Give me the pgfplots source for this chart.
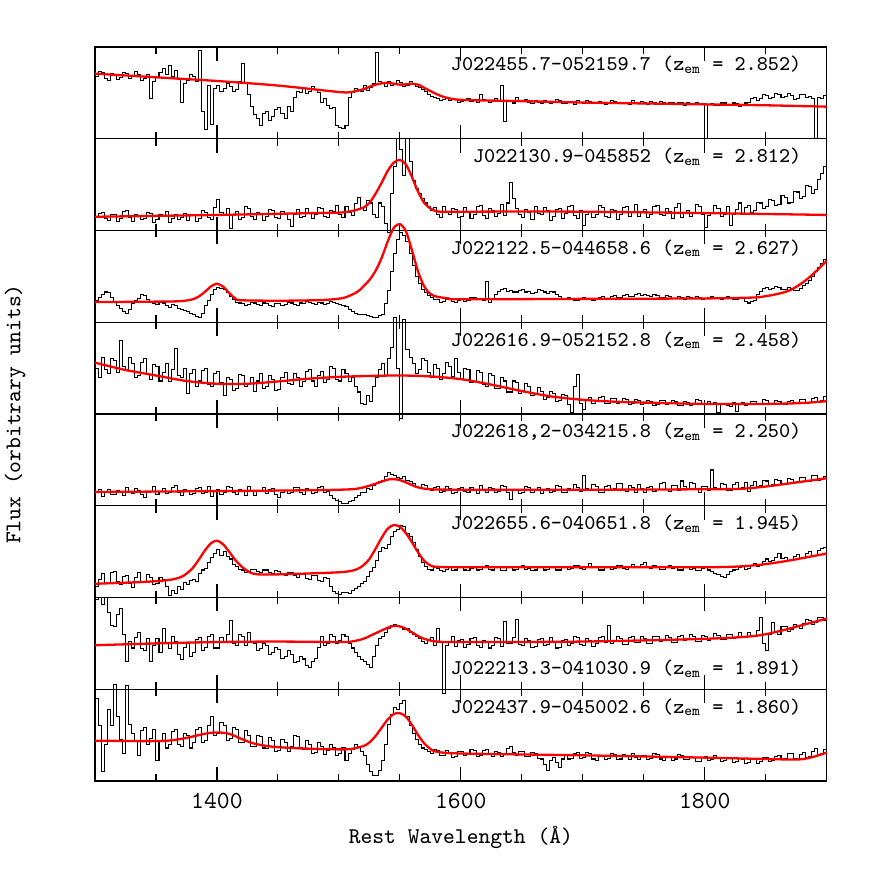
\documentclass[border=0pt]{standalone}
\usepackage{fontspec}
\usepackage{pgfplots}
\pgfplotsset{compat=1.18}
\usepgfplotslibrary{groupplots}
\tikzset{
  spec/.style={black, line width=0.4pt, const plot, no marks},
  model/.style={red, line width=0.9pt, smooth, no marks},
  lab/.style={anchor=base east, font=\fontsize{8.2}{10}\selectfont\ttfamily, inner sep=0pt},
}
\begin{document}
\begin{tikzpicture}
\begin{groupplot}[
  group style={group size=1 by 8, vertical sep=0pt, xticklabels at=edge bottom},
  scale only axis, width=10.07cm, height=1.2626cm,
  xmin=1300, xmax=1900, ymin=0, ymax=100,
  xtick={1400,1600,1800}, xticklabels={1400,1600,1800},
  minor xtick={1350,1450,1500,1550,1650,1700,1750,1850},
  ytick=\empty,
  major tick length=0.19cm, minor tick length=0.095cm,
  tick style={black, line width=0.45pt},
  axis line style={line width=0.5pt},
  clip=false,
  xticklabel style={font=\fontsize{9.6}{11}\selectfont\ttfamily, yshift=-0.05cm},
]
% panel 1
\nextgroupplot[minor ytick={13,27,40,53,67,80,93}]
\addplot[spec] coordinates {
(1300,68)(1302.5,73)(1305,72)(1307.5,66)(1310,64)(1312.5,71)(1315,70)(1317.5,65)(1320,67)(1322.5,72)
(1325,71)(1327.5,66)(1330,69)(1332.5,73)(1335,70)(1337.5,63)(1340,66)(1342.5,70)(1345,44)(1347.5,62)
(1350,68)(1352.5,72)(1355,77)(1357.5,70)(1360,80)(1362.5,68)(1365,74)(1367.5,65)(1370,40)(1372.5,60)
(1375,64)(1377.5,70)(1380,68)(1382.5,62)(1385,96)(1387.5,30)(1390,10)(1392.5,58)(1395,16)(1397.5,55)
(1400,58)(1402.5,52)(1405,55)(1407.5,60)(1410,57)(1412.5,52)(1415,54)(1417.5,62)(1420,82)(1422.5,60)
(1425,48)(1427.5,35)(1430,26)(1432.5,22)(1435,15)(1437.5,28)(1440,30)(1442.5,20)(1445,24)(1447.5,32)
(1450,34)(1452.5,28)(1455,22)(1457.5,35)(1460,30)(1462.5,45)(1465,52)(1467.5,50)(1470,55)(1472.5,49)
(1475,52)(1477.5,57)(1480,54)(1482.5,50)(1485,40)(1487.5,44)(1490,36)(1492.5,33)(1495,34)(1497.5,15)
(1500,12)(1502.5,11)(1505,14)(1507.5,45)(1510,50)(1512.5,55)(1515,54)(1517.5,51)(1520,58)(1522.5,53)
(1525,56)(1527.5,60)(1530,94)(1532.5,62)(1535,60)(1537.5,57)(1540,62)(1542.5,58)(1545,59)(1547.5,63)
(1550,61)(1552.5,57)(1555,58)(1557.5,62)(1560,60)(1562.5,57)(1565,56)(1567.5,54)(1570,52)(1572.5,48)
(1575,46)(1577.5,45)(1580,44)(1582.5,42)(1585,43)(1587.5,45)(1590,42)(1592.5,44)(1595,43)(1597.5,40)
(1600,41)(1602.5,43)(1605,44)(1607.5,41)(1610,42)(1612.5,40)(1615,48)(1617.5,43)(1620,42)(1622.5,40)
(1625,41)(1627.5,44)(1630,41)(1632.5,58)(1635,19)(1637.5,42)(1640,42)(1642.5,39)(1645,45)(1647.5,41)
(1650,41)(1652.5,43)(1655,40)(1657.5,38)(1660,42)(1662.5,40)(1665,39)(1667.5,42)(1670,41)(1672.5,38)
(1675,40)(1677.5,43)(1680,42)(1682.5,39)(1685,39)(1687.5,41)(1690,40)(1692.5,37)(1695,42)(1697.5,40)
(1700,39)(1702.5,42)(1705,41)(1707.5,38)(1710,38)(1712.5,41)(1715,40)(1717.5,37)(1720,39)(1722.5,42)
(1725,41)(1727.5,38)(1730,38)(1732.5,40)(1735,40)(1737.5,37)(1740,42)(1742.5,39)(1745,38)(1747.5,41)
(1750,39)(1752.5,37)(1755,41)(1757.5,39)(1760,38)(1762.5,41)(1765,40)(1767.5,37)(1770,39)(1772.5,40)
(1775,37)(1777.5,40)(1780,39)(1782.5,36)(1785,40)(1787.5,38)(1790,38)(1792.5,40)(1795,37)(1797.5,38)
(1800,0)(1802.5,37)(1805,38)(1807.5,36)(1810,36)(1812.5,39)(1815,39)(1817.5,36)(1820,37)(1822.5,39)
(1825,38)(1827.5,35)(1830,36)(1832.5,39)(1835,40)(1837.5,44)(1840,45)(1842.5,42)(1845,44)(1847.5,48)
(1850,47)(1852.5,44)(1855,45)(1857.5,49)(1860,48)(1862.5,45)(1865,46)(1867.5,49)(1870,47)(1872.5,43)
(1875,44)(1877.5,48)(1880,48)(1882.5,45)(1885,46)(1887.5,44)(1890,0)(1892.5,45)(1895,44)(1897.5,47)(1900,47)
};
\addplot[model] coordinates {
(1300,71) (1350,67) (1400,63) (1450,58) (1500,51) (1510,51) (1520,54) (1530,59) (1540,61) (1550,59)
(1560,60) (1565,59) (1575,52) (1585,46) (1595,43) (1610,42) (1650,41) (1700,39.5) (1750,38.5) (1800,37.5)
(1850,36.5) (1900,35)
};
\node[lab] at (axis description cs:0.966,0.74) {J022455.7-052159.7 (z\textsubscript{em} = 2.852)};
% panel 2
\nextgroupplot[minor ytick={13,27,40,53,67,80,93}]
\addplot[spec] coordinates {
(1300,14)(1302.5,19)(1305,20)(1307.5,13)(1310,11)(1312.5,18)(1315,17)(1317.5,10)(1320,13)(1322.5,21)
(1325,22)(1327.5,14)(1330,10)(1332.5,17)(1335,16)(1337.5,12)(1340,13)(1342.5,20)(1345,19)(1347.5,9)
(1350,12)(1352.5,18)(1355,15)(1357.5,21)(1360,9)(1362.5,13)(1365,18)(1367.5,12)(1370,14)(1372.5,19)
(1375,11)(1377.5,17)(1380,16)(1382.5,10)(1385,13)(1387.5,22)(1390,20)(1392.5,14)(1395,12)(1397.5,25)
(1400,34)(1402.5,20)(1405,17)(1407.5,24)(1410,2)(1412.5,16)(1415,21)(1417.5,12)(1420,14)(1422.5,26)
(1425,24)(1427.5,15)(1430,12)(1432.5,20)(1435,18)(1437.5,11)(1440,15)(1442.5,23)(1445,22)(1447.5,14)
(1450,13)(1452.5,21)(1455,19)(1457.5,12)(1460,4)(1462.5,18)(1465,23)(1467.5,14)(1470,15)(1472.5,24)
(1475,20)(1477.5,13)(1480,17)(1482.5,25)(1485,24)(1487.5,15)(1490,14)(1492.5,22)(1495,21)(1497.5,27)
(1500,18)(1502.5,14)(1505,26)(1507.5,20)(1510,16)(1512.5,29)(1515,36)(1517.5,24)(1520,22)(1522.5,33)
(1525,30)(1527.5,18)(1530,14)(1532.5,30)(1535,26)(1537.5,8)(1540,-2)(1542.5,40)(1545,70)(1547.5,100)
(1550,88)(1552.5,60)(1555,100)(1557.5,75)(1560,55)(1562.5,46)(1565,40)(1567.5,35)(1570,30)(1572.5,26)
(1575,22)(1577.5,25)(1580,18)(1582.5,14)(1585,26)(1587.5,21)(1590,17)(1592.5,24)(1595,23)(1597.5,14)
(1600,15)(1602.5,25)(1605,21)(1607.5,13)(1610,18)(1612.5,26)(1615,27)(1617.5,16)(1620,13)(1622.5,24)
(1625,22)(1627.5,15)(1630,19)(1632.5,28)(1635,16)(1637.5,30)(1640,52)(1642.5,35)(1645,24)(1647.5,17)
(1650,14)(1652.5,23)(1655,20)(1657.5,12)(1660,26)(1662.5,19)(1665,17)(1667.5,25)(1670,22)(1672.5,11)
(1675,15)(1677.5,23)(1680,24)(1682.5,13)(1685,19)(1687.5,26)(1690,27)(1692.5,16)(1695,13)(1697.5,22)
(1700,5)(1702.5,18)(1705,21)(1707.5,14)(1710,18)(1712.5,27)(1715,25)(1717.5,15)(1720,14)(1722.5,23)
(1725,22)(1727.5,12)(1730,17)(1732.5,25)(1735,26)(1737.5,15)(1740,20)(1742.5,28)(1745,15)(1747.5,21)
(1750,23)(1752.5,14)(1755,18)(1757.5,26)(1760,27)(1762.5,17)(1765,16)(1767.5,24)(1770,21)(1772.5,13)
(1775,25)(1777.5,29)(1780,14)(1782.5,20)(1785,22)(1787.5,15)(1790,19)(1792.5,28)(1795,26)(1797.5,18)
(1800,3)(1802.5,16)(1805,20)(1807.5,27)(1810,24)(1812.5,15)(1815,18)(1817.5,26)(1820,6)(1822.5,17)
(1825,23)(1827.5,30)(1830,19)(1832.5,25)(1835,27)(1837.5,20)(1840,22)(1842.5,31)(1845,30)(1847.5,24)
(1850,26)(1852.5,34)(1855,33)(1857.5,27)(1860,28)(1862.5,38)(1865,36)(1867.5,30)(1870,31)(1872.5,43)
(1875,42)(1877.5,35)(1880,37)(1882.5,49)(1885,48)(1887.5,40)(1890,45)(1892.5,56)(1895,62)(1897.5,70)(1900,70)
};
\addplot[model] coordinates {
(1300,15) (1400,17) (1480,19) (1500,19.5) (1510,21) (1520,25) (1525,30) (1530,40) (1535,52) (1540,65)
(1545,74) (1550,77) (1555,72) (1560,58) (1565,42) (1570,30) (1575,24) (1580,21) (1590,20.5) (1650,20.7)
(1700,20.5) (1800,19) (1900,17)
};
\node[lab] at (axis description cs:0.966,0.74) {J022130.9-045852 (z\textsubscript{em} = 2.812)};
% panel 3
\nextgroupplot[minor ytick={5,28,51,74,97}]
\addplot[spec] coordinates {
(1300,24)(1302.5,27)(1305,30)(1307.5,33)(1310,32)(1312.5,27)(1315,22)(1317.5,18)(1320,15)(1322.5,12)
(1325,10)(1327.5,14)(1330,20)(1332.5,24)(1335,26)(1337.5,30)(1340,29)(1342.5,25)(1345,22)(1347.5,20)
(1350,19)(1352.5,22)(1355,21)(1357.5,18)(1360,16)(1362.5,19)(1365,18)(1367.5,15)(1370,14)(1372.5,13)
(1375,12)(1377.5,10)(1380,8)(1382.5,6)(1385,5)(1387.5,10)(1390,18)(1392.5,24)(1395,30)(1397.5,36)
(1400,38)(1402.5,37)(1405,36)(1407.5,32)(1410,28)(1412.5,25)(1415,22)(1417.5,21)(1420,20)(1422.5,18)
(1425,19)(1427.5,22)(1430,21)(1432.5,19)(1435,18)(1437.5,21)(1440,20)(1442.5,18)(1445,17)(1447.5,20)
(1450,20)(1452.5,18)(1455,19)(1457.5,22)(1460,21)(1462.5,19)(1465,18)(1467.5,21)(1470,20)(1472.5,23)
(1475,22)(1477.5,20)(1480,19)(1482.5,22)(1485,21)(1487.5,19)(1490,20)(1492.5,23)(1495,22)(1497.5,20)
(1500,19)(1502.5,18)(1505,17)(1507.5,14)(1510,12)(1512.5,10)(1515,9)(1517.5,8)(1520,8)(1522.5,7)
(1525,6)(1527.5,5)(1530,5)(1532.5,7)(1535,9)(1537.5,20)(1540,35)(1542.5,55)(1545,75)(1547.5,90)
(1550,98)(1552.5,95)(1555,88)(1557.5,75)(1560,62)(1562.5,50)(1565,42)(1567.5,36)(1570,32)(1572.5,29)
(1575,27)(1577.5,25)(1580,25)(1582.5,22)(1585,23)(1587.5,25)(1590,26)(1592.5,23)(1595,22)(1597.5,24)
(1600,25)(1602.5,23)(1605,24)(1607.5,27)(1610,27)(1612.5,25)(1615,26)(1617.5,24)(1620,44)(1622.5,22)
(1625,26)(1627.5,30)(1630,34)(1632.5,36)(1635,37)(1637.5,34)(1640,35)(1642.5,33)(1645,33)(1647.5,35)
(1650,36)(1652.5,33)(1655,34)(1657.5,31)(1660,32)(1662.5,36)(1665,35)(1667.5,33)(1670,31)(1672.5,34)
(1675,33)(1677.5,30)(1680,28)(1682.5,26)(1685,25)(1687.5,27)(1690,26)(1692.5,24)(1695,24)(1697.5,26)
(1700,27)(1702.5,25)(1705,26)(1707.5,24)(1710,25)(1712.5,27)(1715,28)(1717.5,26)(1720,26)(1722.5,28)
(1725,29)(1727.5,27)(1730,27)(1732.5,29)(1735,30)(1737.5,28)(1740,28)(1742.5,30)(1745,31)(1747.5,29)
(1750,30)(1752.5,29)(1755,28)(1757.5,30)(1760,29)(1762.5,27)(1765,27)(1767.5,29)(1770,28)(1772.5,26)
(1775,26)(1777.5,28)(1780,27)(1782.5,25)(1785,28)(1787.5,27)(1790,26)(1792.5,28)(1795,27)(1797.5,25)
(1800,26)(1802.5,27)(1805,28)(1807.5,26)(1810,27)(1812.5,25)(1815,26)(1817.5,28)(1820,27)(1822.5,25)
(1825,25)(1827.5,27)(1830,26)(1832.5,23)(1835,21)(1837.5,23)(1840,24)(1842.5,30)(1845,34)(1847.5,37)
(1850,38)(1852.5,36)(1855,37)(1857.5,39)(1860,38)(1862.5,36)(1865,36)(1867.5,38)(1870,37)(1872.5,35)
(1875,35)(1877.5,37)(1880,40)(1882.5,42)(1885,46)(1887.5,50)(1890,55)(1892.5,60)(1895,64)(1897.5,68)(1900,68)
};
\addplot[model] coordinates {
(1300,22) (1350,22.5) (1370,23) (1380,25) (1385,28) (1390,33) (1395,39) (1400,42) (1405,39) (1410,32)
(1415,26) (1420,24) (1450,23.5) (1480,24) (1495,25) (1505,27) (1515,33) (1520,39) (1525,46) (1530,56)
(1535,70) (1540,88) (1545,103) (1550,107) (1555,99) (1560,78) (1565,55) (1570,39) (1575,31) (1580,28)
(1590,26) (1600,25) (1700,25.5) (1800,26) (1840,27) (1850,28.5) (1860,31) (1870,35) (1880,43) (1890,54)
(1900,67)
};
\node[lab] at (axis description cs:0.966,0.74) {J022122.5-044658.6 (z\textsubscript{em} = 2.627)};
% panel 4
\nextgroupplot[minor ytick={19,39,58,78,97}]
\addplot[spec] coordinates {
(1300,50)(1302.5,40)(1305,62)(1307.5,48)(1310,44)(1312.5,60)(1315,58)(1317.5,45)(1320,80)(1322.5,52)
(1325,48)(1327.5,62)(1330,55)(1332.5,40)(1335,42)(1337.5,56)(1340,60)(1342.5,44)(1345,38)(1347.5,54)
(1350,52)(1352.5,36)(1355,45)(1357.5,55)(1360,35)(1362.5,48)(1365,71)(1367.5,42)(1370,40)(1372.5,50)
(1375,22)(1377.5,44)(1380,48)(1382.5,30)(1385,36)(1387.5,47)(1390,50)(1392.5,32)(1395,30)(1397.5,44)
(1400,46)(1402.5,34)(1405,20)(1407.5,40)(1410,38)(1412.5,26)(1415,28)(1417.5,43)(1420,42)(1422.5,30)
(1425,33)(1427.5,40)(1430,25)(1432.5,36)(1435,44)(1437.5,28)(1440,30)(1442.5,42)(1445,38)(1447.5,26)
(1450,27)(1452.5,40)(1455,45)(1457.5,33)(1460,32)(1462.5,44)(1465,40)(1467.5,30)(1470,35)(1472.5,46)
(1475,48)(1477.5,36)(1480,30)(1482.5,42)(1485,46)(1487.5,34)(1490,38)(1492.5,52)(1495,50)(1497.5,38)
(1500,36)(1502.5,48)(1505,44)(1507.5,35)(1510,40)(1512.5,30)(1515,24)(1517.5,12)(1520,10)(1522.5,20)
(1525,14)(1527.5,30)(1530,40)(1532.5,48)(1535,55)(1537.5,42)(1540,60)(1542.5,72)(1545,105)(1547.5,50)
(1550,-5)(1552.5,103)(1555,70)(1557.5,62)(1560,55)(1562.5,44)(1565,48)(1567.5,60)(1570,58)(1572.5,45)
(1575,40)(1577.5,54)(1580,50)(1582.5,38)(1585,44)(1587.5,56)(1590,52)(1592.5,41)(1595,60)(1597.5,45)
(1600,38)(1602.5,50)(1605,48)(1607.5,34)(1610,35)(1612.5,47)(1615,45)(1617.5,32)(1620,30)(1622.5,44)
(1625,42)(1627.5,28)(1630,28)(1632.5,40)(1635,36)(1637.5,24)(1640,24)(1642.5,36)(1645,34)(1647.5,22)
(1650,26)(1652.5,33)(1655,30)(1657.5,20)(1660,22)(1662.5,29)(1665,25)(1667.5,16)(1670,18)(1672.5,25)
(1675,22)(1677.5,14)(1680,15)(1682.5,21)(1685,20)(1687.5,10)(1690,2)(1692.5,30)(1695,43)(1697.5,12)
(1700,5)(1702.5,16)(1705,18)(1707.5,12)(1710,14)(1712.5,18)(1715,19)(1717.5,11)(1720,12)(1722.5,17)
(1725,17)(1727.5,11)(1730,13)(1732.5,17)(1735,16)(1737.5,10)(1740,11)(1742.5,16)(1745,15)(1747.5,10)
(1750,12)(1752.5,15)(1755,14)(1757.5,9)(1760,10)(1762.5,15)(1765,15)(1767.5,10)(1770,11)(1772.5,15)
(1775,14)(1777.5,9)(1780,9)(1782.5,14)(1785,13)(1787.5,9)(1790,11)(1792.5,16)(1795,15)(1797.5,10)
(1800,12)(1802.5,14)(1805,10)(1807.5,13)(1810,2)(1812.5,11)(1815,12)(1817.5,9)(1820,8)(1822.5,13)
(1825,3)(1827.5,10)(1830,13)(1832.5,9)(1835,10)(1837.5,14)(1840,14)(1842.5,10)(1845,12)(1847.5,16)
(1850,15)(1852.5,11)(1855,11)(1857.5,15)(1860,14)(1862.5,10)(1865,10)(1867.5,14)(1870,15)(1872.5,11)
(1875,12)(1877.5,16)(1880,16)(1882.5,12)(1885,13)(1887.5,17)(1890,18)(1892.5,13)(1895,15)(1897.5,19)(1900,19)
};
\addplot[model] coordinates {
(1300,56) (1325,48) (1350,42) (1375,36) (1400,33) (1425,33) (1450,35.5) (1475,38.5) (1500,40.5) (1525,41.5)
(1550,42) (1575,41) (1600,38) (1625,32) (1650,25) (1675,19) (1700,15.5) (1725,13.5) (1750,12.5) (1800,11)
(1850,11) (1880,12) (1900,14)
};
\node[lab] at (axis description cs:0.966,0.74) {J022616.9-052152.8 (z\textsubscript{em} = 2.458)};
% panel 5
\nextgroupplot[minor ytick={8,17,26,35,44,53,62,71,80,89,98}]
\addplot[spec] coordinates {
(1300,14)(1302.5,18)(1305,10)(1307.5,15)(1310,18)(1312.5,12)(1315,12)(1317.5,17)(1320,16)(1322.5,11)
(1325,20)(1327.5,15)(1330,13)(1332.5,19)(1335,17)(1337.5,12)(1340,9)(1342.5,15)(1345,16)(1347.5,21)
(1350,12)(1352.5,16)(1355,19)(1357.5,13)(1360,14)(1362.5,20)(1365,22)(1367.5,14)(1370,11)(1372.5,18)
(1375,17)(1377.5,12)(1380,13)(1382.5,19)(1385,20)(1387.5,13)(1390,15)(1392.5,21)(1395,10)(1397.5,16)
(1400,18)(1402.5,12)(1405,14)(1407.5,21)(1410,20)(1412.5,14)(1415,12)(1417.5,18)(1420,17)(1422.5,11)
(1425,21)(1427.5,16)(1430,11)(1432.5,17)(1435,16)(1437.5,20)(1440,13)(1442.5,18)(1445,19)(1447.5,12)
(1450,9)(1452.5,15)(1455,17)(1457.5,13)(1460,14)(1462.5,20)(1465,20)(1467.5,14)(1470,12)(1472.5,19)
(1475,18)(1477.5,13)(1480,15)(1482.5,20)(1485,21)(1487.5,15)(1490,16)(1492.5,11)(1495,8)(1497.5,6)
(1500,5)(1502.5,3)(1505,3)(1507.5,5)(1510,6)(1512.5,9)(1515,11)(1517.5,14)(1520,15)(1522.5,19)
(1525,18)(1527.5,22)(1530,24)(1532.5,26)(1535,28)(1537.5,32)(1540,36)(1542.5,34)(1545,33)(1547.5,31)
(1550,30)(1552.5,32)(1555,28)(1557.5,26)(1560,24)(1562.5,21)(1565,20)(1567.5,23)(1570,22)(1572.5,18)
(1575,17)(1577.5,20)(1580,21)(1582.5,15)(1585,16)(1587.5,21)(1590,19)(1592.5,13)(1595,14)(1597.5,19)
(1600,20)(1602.5,16)(1605,15)(1607.5,20)(1610,18)(1612.5,13)(1615,22)(1617.5,17)(1620,14)(1622.5,20)
(1625,19)(1627.5,14)(1630,16)(1632.5,22)(1635,21)(1637.5,15)(1640,7)(1642.5,17)(1645,18)(1647.5,13)
(1650,15)(1652.5,21)(1655,20)(1657.5,14)(1660,17)(1662.5,20)(1665,13)(1667.5,18)(1670,19)(1672.5,14)
(1675,16)(1677.5,22)(1680,21)(1682.5,15)(1685,14)(1687.5,19)(1690,18)(1692.5,23)(1695,20)(1697.5,16)
(1700,33)(1702.5,19)(1705,17)(1707.5,23)(1710,21)(1712.5,15)(1715,15)(1717.5,21)(1720,22)(1722.5,17)
(1725,19)(1727.5,24)(1730,24)(1732.5,18)(1735,16)(1737.5,22)(1740,20)(1742.5,15)(1745,23)(1747.5,19)
(1750,14)(1752.5,20)(1755,21)(1757.5,16)(1760,18)(1762.5,24)(1765,25)(1767.5,18)(1770,16)(1772.5,22)
(1775,22)(1777.5,17)(1780,27)(1782.5,21)(1785,19)(1787.5,25)(1790,24)(1792.5,18)(1795,15)(1797.5,21)
(1800,21)(1802.5,17)(1805,39)(1807.5,20)(1810,18)(1812.5,24)(1815,23)(1817.5,17)(1820,17)(1822.5,23)
(1825,25)(1827.5,19)(1830,20)(1832.5,25)(1835,16)(1837.5,22)(1840,26)(1842.5,21)(1845,22)(1847.5,28)
(1850,27)(1852.5,22)(1855,23)(1857.5,29)(1860,28)(1862.5,23)(1865,24)(1867.5,30)(1870,29)(1872.5,25)
(1875,26)(1877.5,31)(1880,31)(1882.5,26)(1885,27)(1887.5,33)(1890,33)(1892.5,28)(1895,30)(1897.5,32)(1900,32)
};
\addplot[model] coordinates {
(1300,15) (1400,16) (1480,17) (1510,18) (1520,20) (1530,24) (1540,28.5) (1545,29) (1550,28) (1555,25.5)
(1560,22.5) (1565,20) (1575,18) (1600,17.5) (1700,17.5) (1800,18) (1830,18.5) (1850,21) (1870,24.5) (1900,30)
};
\node[lab] at (axis description cs:0.966,0.74) {J022618,2-034215.8 (z\textsubscript{em} = 2.250)};
% panel 6
\nextgroupplot[minor ytick={4,17,30,43,56,69,82,95}]
\addplot[spec] coordinates {
(1300,12)(1302.5,20)(1305,26)(1307.5,15)(1310,16)(1312.5,27)(1315,28)(1317.5,18)(1320,14)(1322.5,23)
(1325,24)(1327.5,15)(1330,11)(1332.5,22)(1335,27)(1337.5,17)(1340,18)(1342.5,25)(1345,22)(1347.5,14)
(1350,15)(1352.5,22)(1355,20)(1357.5,12)(1360,2)(1362.5,8)(1365,4)(1367.5,12)(1370,9)(1372.5,16)
(1375,14)(1377.5,19)(1380,20)(1382.5,17)(1385,26)(1387.5,30)(1390,32)(1392.5,38)(1395,44)(1397.5,48)
(1400,52)(1402.5,46)(1405,50)(1407.5,45)(1410,42)(1412.5,36)(1415,34)(1417.5,31)(1420,30)(1422.5,27)
(1425,28)(1427.5,31)(1430,31)(1432.5,28)(1435,27)(1437.5,30)(1440,30)(1442.5,27)(1445,26)(1447.5,29)
(1450,28)(1452.5,25)(1455,24)(1457.5,27)(1460,27)(1462.5,24)(1465,22)(1467.5,26)(1470,25)(1472.5,21)
(1475,20)(1477.5,24)(1480,24)(1482.5,19)(1485,17)(1487.5,22)(1490,21)(1492.5,12)(1495,7)(1497.5,4)
(1500,3)(1502.5,5)(1505,6)(1507.5,4)(1510,8)(1512.5,10)(1515,12)(1517.5,15)(1520,18)(1522.5,23)
(1525,28)(1527.5,33)(1530,40)(1532.5,50)(1535,55)(1537.5,53)(1540,58)(1542.5,66)(1545,72)(1547.5,74)
(1550,78)(1552.5,77)(1555,70)(1557.5,66)(1560,60)(1562.5,52)(1565,45)(1567.5,38)(1570,34)(1572.5,31)
(1575,30)(1577.5,33)(1580,32)(1582.5,29)(1585,28)(1587.5,31)(1590,33)(1592.5,29)(1595,30)(1597.5,33)
(1600,34)(1602.5,30)(1605,29)(1607.5,32)(1610,33)(1612.5,30)(1615,31)(1617.5,34)(1620,35)(1622.5,31)
(1625,30)(1627.5,33)(1630,33)(1632.5,29)(1635,29)(1637.5,33)(1640,34)(1642.5,30)(1645,31)(1647.5,34)
(1650,35)(1652.5,31)(1655,32)(1657.5,29)(1660,30)(1662.5,33)(1665,34)(1667.5,30)(1670,31)(1672.5,34)
(1675,33)(1677.5,30)(1680,30)(1682.5,33)(1685,34)(1687.5,31)(1690,32)(1692.5,35)(1695,35)(1697.5,32)
(1700,31)(1702.5,34)(1705,37)(1707.5,33)(1710,33)(1712.5,30)(1715,30)(1717.5,33)(1720,34)(1722.5,31)
(1725,32)(1727.5,35)(1730,35)(1732.5,32)(1735,31)(1737.5,34)(1740,36)(1742.5,33)(1745,33)(1747.5,36)
(1750,38)(1752.5,34)(1755,32)(1757.5,35)(1760,34)(1762.5,31)(1765,31)(1767.5,34)(1770,35)(1772.5,32)
(1775,33)(1777.5,30)(1780,30)(1782.5,33)(1785,34)(1787.5,31)(1790,32)(1792.5,29)(1795,29)(1797.5,32)
(1800,33)(1802.5,30)(1805,28)(1807.5,26)(1810,25)(1812.5,23)(1815,22)(1817.5,25)(1820,28)(1822.5,30)
(1825,31)(1827.5,33)(1830,34)(1832.5,31)(1835,32)(1837.5,35)(1840,37)(1842.5,34)(1845,35)(1847.5,39)
(1850,42)(1852.5,39)(1855,40)(1857.5,44)(1860,48)(1862.5,43)(1865,44)(1867.5,40)(1870,41)(1872.5,45)
(1875,47)(1877.5,43)(1880,43)(1882.5,48)(1885,50)(1887.5,46)(1890,46)(1892.5,51)(1895,53)(1897.5,55)(1900,55)
};
\addplot[model] coordinates {
(1300,15) (1340,17) (1360,19) (1370,22) (1375,26) (1380,32) (1385,41) (1390,51) (1395,59) (1400,62)
(1405,58) (1410,50) (1415,41) (1420,34) (1425,29) (1430,26) (1440,25) (1470,26) (1500,27.5) (1510,29)
(1515,31) (1520,35) (1525,42) (1530,53) (1535,65) (1540,75) (1545,79) (1550,77) (1555,70) (1560,60)
(1565,49) (1570,40) (1575,35) (1580,33.5) (1600,33) (1700,33) (1800,33) (1830,34) (1850,36.5) (1870,40.5)
(1900,48)
};
\node[lab] at (axis description cs:0.966,0.74) {J022655.6-040651.8 (z\textsubscript{em} = 1.945)};
% panel 7
\nextgroupplot[minor ytick={2,17,32,47,62,77,92}]
\addplot[spec] coordinates {
(1300,98)(1302.5,100)(1305,92)(1307.5,100)(1310,84)(1312.5,70)(1315,68)(1317.5,82)(1320,88)(1322.5,60)
(1325,30)(1327.5,52)(1330,45)(1332.5,56)(1335,62)(1337.5,44)(1340,42)(1342.5,55)(1345,30)(1347.5,48)
(1350,55)(1352.5,40)(1355,66)(1357.5,50)(1360,44)(1362.5,58)(1365,52)(1367.5,38)(1370,32)(1372.5,46)
(1375,50)(1377.5,36)(1380,40)(1382.5,54)(1385,56)(1387.5,42)(1390,46)(1392.5,58)(1395,60)(1397.5,45)
(1400,45)(1402.5,56)(1405,52)(1407.5,60)(1410,75)(1412.5,50)(1415,48)(1417.5,60)(1420,58)(1422.5,48)
(1425,62)(1427.5,52)(1430,50)(1432.5,42)(1435,44)(1437.5,50)(1440,48)(1442.5,38)(1445,40)(1447.5,46)
(1450,43)(1452.5,34)(1455,36)(1457.5,42)(1460,38)(1462.5,29)(1465,30)(1467.5,36)(1470,33)(1472.5,26)
(1475,24)(1477.5,30)(1480,34)(1482.5,46)(1485,58)(1487.5,48)(1490,50)(1492.5,60)(1495,57)(1497.5,50)
(1500,53)(1502.5,60)(1505,58)(1507.5,50)(1510,45)(1512.5,40)(1515,36)(1517.5,32)(1520,30)(1522.5,27)
(1525,24)(1527.5,36)(1530,48)(1532.5,55)(1535,58)(1537.5,62)(1540,66)(1542.5,70)(1545,71)(1547.5,69)
(1550,68)(1552.5,65)(1555,66)(1557.5,62)(1560,60)(1562.5,57)(1565,55)(1567.5,52)(1570,50)(1572.5,54)
(1575,56)(1577.5,48)(1580,66)(1582.5,52)(1585,-5)(1587.5,48)(1590,52)(1592.5,57)(1595,47)(1597.5,53)
(1600,54)(1602.5,46)(1605,49)(1607.5,55)(1610,56)(1612.5,48)(1615,46)(1617.5,53)(1620,52)(1622.5,45)
(1625,48)(1627.5,56)(1630,55)(1632.5,47)(1635,74)(1637.5,50)(1640,50)(1642.5,56)(1645,76)(1647.5,49)
(1650,48)(1652.5,55)(1655,53)(1657.5,46)(1660,47)(1662.5,54)(1665,55)(1667.5,48)(1670,49)(1672.5,56)
(1675,52)(1677.5,45)(1680,46)(1682.5,53)(1685,54)(1687.5,48)(1690,50)(1692.5,57)(1695,56)(1697.5,49)
(1700,48)(1702.5,55)(1705,53)(1707.5,47)(1710,50)(1712.5,56)(1715,57)(1717.5,51)(1720,70)(1722.5,50)
(1725,52)(1727.5,58)(1730,55)(1732.5,49)(1735,49)(1737.5,56)(1740,57)(1742.5,51)(1745,51)(1747.5,58)
(1750,55)(1752.5,50)(1755,50)(1757.5,57)(1760,58)(1762.5,52)(1765,53)(1767.5,59)(1770,56)(1772.5,51)
(1775,51)(1777.5,57)(1780,59)(1782.5,53)(1785,54)(1787.5,60)(1790,57)(1792.5,52)(1795,52)(1797.5,59)
(1800,58)(1802.5,53)(1805,55)(1807.5,61)(1810,59)(1812.5,54)(1815,54)(1817.5,60)(1820,60)(1822.5,55)
(1825,56)(1827.5,62)(1830,58)(1832.5,56)(1835,62)(1837.5,58)(1840,57)(1842.5,64)(1845,78)(1847.5,50)
(1850,42)(1852.5,60)(1855,73)(1857.5,62)(1860,60)(1862.5,68)(1865,68)(1867.5,63)(1870,65)(1872.5,71)
(1875,70)(1877.5,66)(1880,72)(1882.5,76)(1885,75)(1887.5,71)(1890,73)(1892.5,78)(1895,78)(1897.5,75)(1900,75)
};
\addplot[model] coordinates {
(1300,48) (1350,50) (1400,51.5) (1450,52) (1500,51.5) (1510,52) (1520,55) (1530,61) (1540,67) (1545,69)
(1550,68.5) (1555,66) (1560,62) (1565,58) (1570,55) (1580,52) (1600,51.5) (1700,52) (1800,55) (1840,58)
(1860,63) (1880,70) (1900,77)
};
\node[lab] at (axis description cs:0.966,0.16) {J022213.3-041030.9 (z\textsubscript{em} = 1.891)};
% panel 8
\nextgroupplot[minor ytick={11,24,36,49,61,74,86,98}]
\addplot[spec] coordinates {
(1300,90)(1302.5,60)(1305,10)(1307.5,40)(1310,78)(1312.5,60)(1315,105)(1317.5,70)(1320,45)(1322.5,30)
(1325,104)(1327.5,62)(1330,52)(1332.5,44)(1335,28)(1337.5,55)(1340,58)(1342.5,40)(1345,46)(1347.5,56)
(1350,22)(1352.5,44)(1355,52)(1357.5,36)(1360,40)(1362.5,54)(1365,56)(1367.5,40)(1370,38)(1372.5,52)
(1375,50)(1377.5,36)(1380,42)(1382.5,56)(1385,58)(1387.5,42)(1390,44)(1392.5,60)(1395,70)(1397.5,50)
(1400,52)(1402.5,64)(1405,60)(1407.5,44)(1410,46)(1412.5,58)(1415,56)(1417.5,42)(1420,42)(1422.5,55)
(1425,50)(1427.5,38)(1430,38)(1432.5,50)(1435,48)(1437.5,36)(1440,35)(1442.5,47)(1445,44)(1447.5,32)
(1450,33)(1452.5,45)(1455,42)(1457.5,32)(1460,38)(1462.5,50)(1465,48)(1467.5,36)(1470,34)(1472.5,44)
(1475,40)(1477.5,30)(1480,31)(1482.5,42)(1485,38)(1487.5,29)(1490,33)(1492.5,40)(1495,36)(1497.5,28)
(1500,30)(1502.5,37)(1505,22)(1507.5,30)(1510,34)(1512.5,40)(1515,38)(1517.5,32)(1520,28)(1522.5,18)
(1525,10)(1527.5,6)(1530,6)(1532.5,12)(1535,22)(1537.5,40)(1540,62)(1542.5,72)(1545,80)(1547.5,78)
(1550,85)(1552.5,88)(1555,70)(1557.5,60)(1560,52)(1562.5,45)(1565,40)(1567.5,36)(1570,34)(1572.5,32)
(1575,30)(1577.5,34)(1580,33)(1582.5,28)(1585,28)(1587.5,33)(1590,31)(1592.5,26)(1595,27)(1597.5,32)
(1600,32)(1602.5,28)(1605,29)(1607.5,34)(1610,33)(1612.5,27)(1615,28)(1617.5,33)(1620,34)(1622.5,29)
(1625,27)(1627.5,32)(1630,31)(1632.5,27)(1635,30)(1637.5,35)(1640,38)(1642.5,31)(1645,28)(1647.5,32)
(1650,32)(1652.5,27)(1655,27)(1657.5,31)(1660,30)(1662.5,25)(1665,24)(1667.5,18)(1670,12)(1672.5,22)
(1675,26)(1677.5,20)(1680,15)(1682.5,24)(1685,29)(1687.5,24)(1690,25)(1692.5,30)(1695,31)(1697.5,25)
(1700,26)(1702.5,31)(1705,30)(1707.5,24)(1710,22)(1712.5,27)(1715,28)(1717.5,23)(1720,25)(1722.5,30)
(1725,29)(1727.5,23)(1730,24)(1732.5,29)(1735,27)(1737.5,23)(1740,30)(1742.5,26)(1745,23)(1747.5,28)
(1750,28)(1752.5,23)(1755,25)(1757.5,30)(1760,29)(1762.5,24)(1765,22)(1767.5,27)(1770,27)(1772.5,22)
(1775,24)(1777.5,29)(1780,28)(1782.5,23)(1785,23)(1787.5,27)(1790,26)(1792.5,21)(1795,21)(1797.5,26)
(1800,27)(1802.5,22)(1805,24)(1807.5,28)(1810,26)(1812.5,21)(1815,22)(1817.5,26)(1820,25)(1822.5,20)
(1825,21)(1827.5,25)(1830,24)(1832.5,19)(1835,20)(1837.5,25)(1840,23)(1842.5,19)(1845,21)(1847.5,26)
(1850,26)(1852.5,21)(1855,22)(1857.5,27)(1860,28)(1862.5,23)(1865,25)(1867.5,30)(1870,30)(1872.5,25)
(1875,24)(1877.5,29)(1880,31)(1882.5,26)(1885,27)(1887.5,32)(1890,35)(1892.5,29)(1895,30)(1897.5,34)(1900,34)
};
\addplot[model] coordinates {
(1300,44) (1340,43.5) (1360,44) (1375,47) (1390,51.5) (1400,53) (1410,51.5) (1420,46) (1430,41) (1445,37.5)
(1470,35.5) (1500,34.5) (1510,35) (1520,38) (1525,42) (1530,49) (1535,58) (1540,67) (1545,73) (1550,74)
(1555,70) (1560,61) (1565,50) (1570,41) (1575,35) (1580,32) (1600,30) (1700,28) (1800,25.5) (1870,23.5)
(1885,25) (1900,31)
};
\node[lab] at (axis description cs:0.966,0.74) {J022437.9-045002.6 (z\textsubscript{em} = 1.860)};
\end{groupplot}
\node[font=\fontsize{8.8}{10}\selectfont\ttfamily] at ([yshift=-0.77cm]group c1r8.south) {Rest Wavelength (Å)};
\node[rotate=90, font=\fontsize{8.8}{10}\selectfont\ttfamily] at ([xshift=-1.10cm]group c1r4.south west) {Flux (orbitrary units)};
\pgfresetboundingbox
\path[use as bounding box] ([xshift=-1.307cm,yshift=0.647cm]group c1r1.north west) rectangle ([xshift=0.619cm,yshift=-1.252cm]group c1r8.south east);
\end{tikzpicture}
\end{document}
